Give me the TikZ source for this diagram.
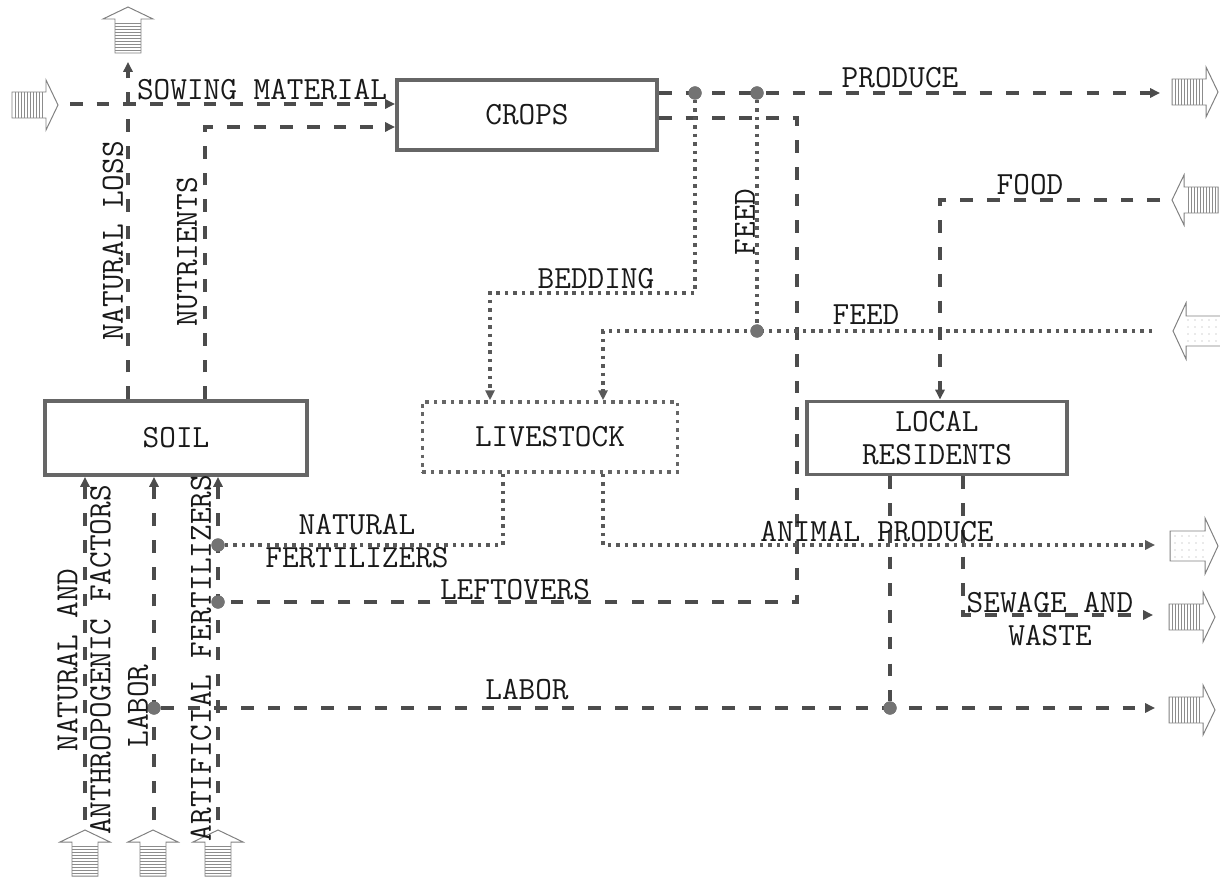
\documentclass[tikz,border=0pt]{standalone}
\usepackage{fontspec}
\usetikzlibrary{arrows.meta, positioning, calc}
\newcommand\diagfont{\fontsize{23pt}{23.5pt}\ttfamily}
\tikzset{
  box/.style = {
    draw=black!60,
    line width=2.8pt,
    align=center,
    text=black!90,
    minimum width=6.5cm,
    minimum height=1.75cm,
  },
  dotbox/.style = {
    box,
    draw=black!60,
    line width=2.6pt,
    dash pattern=on 2.5pt off 3.5pt,
  },
  flow/.style = {
    draw=black!70,
    line width=2.6pt,
    dash pattern=on 9pt off 10pt,
  },
  dotflow/.style = {
    draw=black!65,
    line width=2.6pt,
    dash pattern=on 2.5pt off 3.5pt,
  },
  tip/.style = {
    -{Triangle[length=7pt, width=6.5pt]},
  },
  junction/.style = {
    circle,
    fill=black!55,
    inner sep=0pt,
    minimum size=0.33cm,
  },
  label/.style = {
    text=black!90,
    inner sep=0pt,
    align=center,
  },
  vlabel/.style = {
    label,
    rotate=90,
  },
  outline/.style = {
    draw=black!50,
    line width=0.7pt,
    fill=white,
  },
  stripe/.style = {
    draw=black!45,
    line width=0.45pt,
  },
  stripedarrow/.pic = {
    \draw[outline] (0,-13) -- (34,-13) -- (34,-25) -- (46,0)
      -- (34,25) -- (34,13) -- (0,13) -- cycle;
    \foreach \s in {3,6,...,32}
      \draw[stripe] (\s,-13) -- (\s,13);
  },
  dottedarrow/.pic = {
    \draw[outline] (0,-15) -- (35,-15) -- (35,-28) -- (48,0)
      -- (35,28) -- (35,15) -- (0,15) -- cycle;
    \foreach \s in {5,12,...,33}
      \foreach \t in {-10,-3,4,11}
        \fill[black!35] (\s,\t) circle (0.5pt);
  },
}

\begin{document}
\begin{tikzpicture}[
  x=0.025cm,
  y=-0.025cm,
  font=\diagfont,
]
\useasboundingbox (0,0) rectangle (1220,878);

% blocks
\node(Crops)[box] at (527,115) {CROPS};
\node(Soil)[box, minimum width=6.55cm, minimum height=1.85cm] at (176,438) {SOIL};
\node(Livestock)[dotbox, minimum width=6.375cm] at (550,437) {LIVESTOCK};
\node(Residents)[box, minimum height=1.825cm] at (937,438) {LOCAL\\RESIDENTS};

% sources and sinks
\pic[rotate=90] at (128,53) {stripedarrow};
\pic at (12,105) {stripedarrow};
\pic at (1172,92) {stripedarrow};
\pic[rotate=180] at (1218,200) {stripedarrow};
\pic[rotate=180] at (1221,331) {dottedarrow};
\pic at (1170,546) {dottedarrow};
\pic at (1169,617) {stripedarrow};
\pic at (1169,710) {stripedarrow};
\foreach \x in {85,153,218}
  \pic[rotate=90] at (\x,876) {stripedarrow};

% junctions
\node(BedSplit)[junction] at (695,93) {};
\node(FeedSplit)[junction] at (757,93) {};
\node(FeedJoin)[junction] at (757,331) {};
\node(NatFert)[junction] at (218,545) {};
\node(LeftJoin)[junction] at (218,602) {};
\node(LaborSplit)[junction] at (154,708) {};
\node(LaborJoin)[junction] at (890,708) {};

% free ends and corners
\coordinate (SowStart) at (70,104);
\coordinate (LossEnd) at (128,62);
\coordinate (NutCorner) at (205,127);
\coordinate (ProduceEnd) at (1160,93);
\coordinate (BedCorner) at (490,293);
\coordinate (FeedStart) at (1152,331);
\coordinate (FeedCorner) at (603,331);
\coordinate (LeftCornerA) at (797,118);
\coordinate (LeftCornerB) at (797,602);
\coordinate (FoodStart) at (1160,200);
\coordinate (FoodCorner) at (940,200);
\coordinate (NatCorner) at (503,545);
\coordinate (AnimCorner) at (603,545);
\coordinate (AnimEnd) at (1155,545);
\coordinate (SewCorner) at (963,615);
\coordinate (SewEnd) at (1153,615);
\coordinate (LaborEnd) at (1155,708);
\coordinate (FactorStart) at (85,820);
\coordinate (LaborStart) at (154,820);
\coordinate (ArtStart) at (218,820);

% flows
\draw[flow, tip] (SowStart) -- (Crops.west |- SowStart);
\draw[flow, tip] (LossEnd |- Soil.north) -- (LossEnd);
\draw[flow, tip] (NutCorner |- Soil.north) -- (NutCorner) -- (Crops.west |- NutCorner);
\draw[flow, tip] (Crops.east |- ProduceEnd) -- (ProduceEnd);
\draw[flow] (Crops.east |- LeftCornerA) -- (LeftCornerA) -- (LeftCornerB) -- (LeftJoin);
\draw[dotflow, tip] (BedSplit) |- (BedCorner) -- (BedCorner |- Livestock.north);
\draw[dotflow] (FeedSplit) -- (FeedJoin);
\draw[dotflow, tip] (FeedStart) -- (FeedCorner) -- (FeedCorner |- Livestock.north);
\draw[flow, tip] (FoodStart) -- (FoodCorner) -- (FoodCorner |- Residents.north);
\draw[dotflow] (NatCorner |- Livestock.south) -- (NatCorner) -- (NatFert);
\draw[dotflow, tip] (AnimCorner |- Livestock.south) -- (AnimCorner) -- (AnimEnd);
\draw[flow] (LaborJoin |- Residents.south) -- (LaborJoin);
\draw[flow, tip] (SewCorner |- Residents.south) -- (SewCorner) -- (SewEnd);
\draw[flow, tip] (LaborSplit) -- (LaborEnd);
\draw[flow, tip] (FactorStart) -- (FactorStart |- Soil.south);
\draw[flow, tip] (LaborStart) -- (LaborStart |- Soil.south);
\draw[flow, tip] (ArtStart) -- (ArtStart |- Soil.south);

% redraw junctions on top
\foreach \j in {BedSplit, FeedSplit, FeedJoin, NatFert, LeftJoin, LaborSplit, LaborJoin}
  \fill[black!55] (\j) circle (0.165cm);

% labels
\node(SowLabel)[label] at (262,90) {SOWING MATERIAL};
\node(LossLabel)[vlabel] at (113,241) {NATURAL LOSS};
\node(NutLabel)[vlabel] at (187,252) {NUTRIENTS};
\node(ProduceLabel)[label] at (900,78) {PRODUCE};
\node(BedLabel)[label] at (596,279) {BEDDING};
\node(FeedVLabel)[vlabel] at (745,222) {FEED};
\node(FeedLabel)[label] at (866,315) {FEED};
\node(FoodLabel)[label] at (1030,185) {FOOD};
\node(NatLabel)[label] at (357,541) {NATURAL\\FERTILIZERS};
\node(LeftLabel)[label] at (515,590) {LEFTOVERS};
\node(AnimLabel)[label] at (877,532) {ANIMAL PRODUCE};
\node(SewLabel)[label] at (1050,619) {SEWAGE AND\\WASTE};
\node(LaborLabel)[label] at (527,690) {LABOR};
\node(FactorLabel)[vlabel] at (84,660) {NATURAL AND\\ANTHROPOGENIC FACTORS};
\node(LaborVLabel)[vlabel] at (138,706) {LABOR};
\node(ArtLabel)[vlabel] at (201,658) {ARTIFICIAL FERTILIZERS};

\end{tikzpicture}
\end{document}
